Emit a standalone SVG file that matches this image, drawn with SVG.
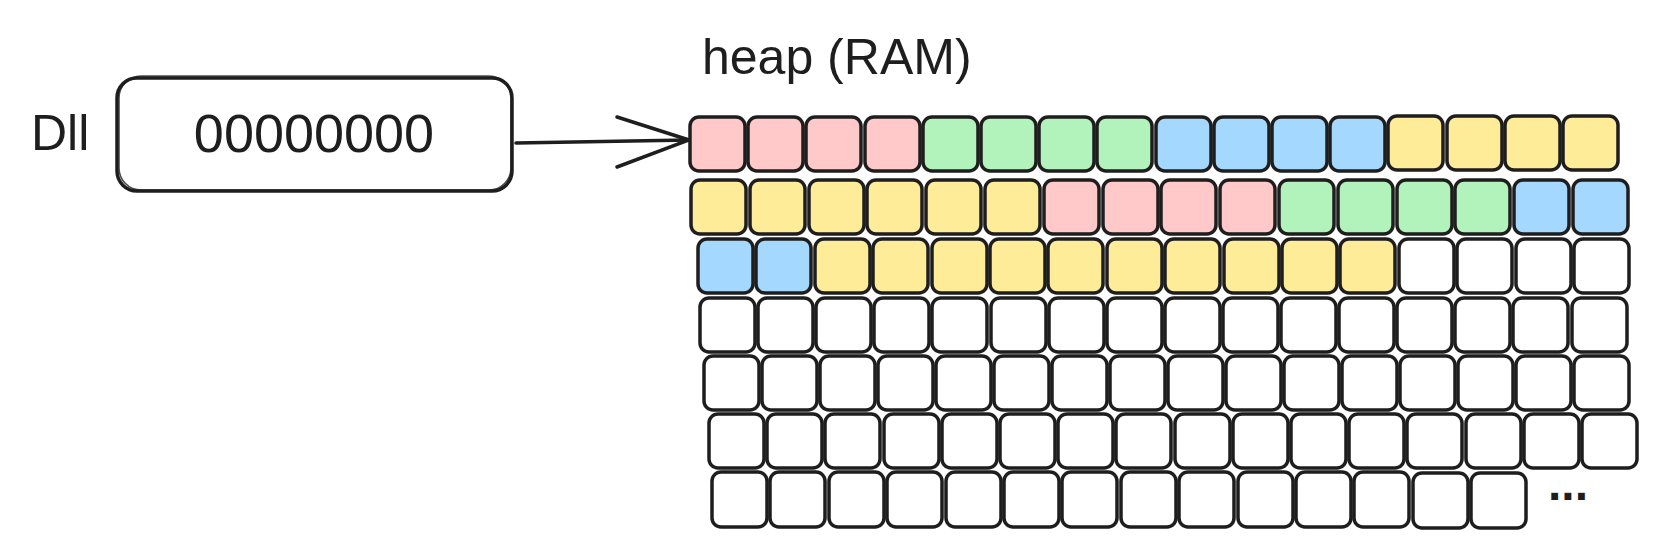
<svg xmlns="http://www.w3.org/2000/svg" width="1667" height="557" viewBox="0 0 1667 557">
<style>
.t{font-family:"Liberation Sans",Arial,sans-serif;fill:#1e1e1e}
.c{stroke:#1e1e1e;stroke-width:3.5;stroke-linejoin:round}
.s{fill:none;stroke:#1e1e1e;stroke-width:1.6;opacity:.8}
.r{fill:#ffc9c9}.g{fill:#b2f2bb}.b{fill:#a5d8ff}.y{fill:#ffec99}.w{fill:#fff}
</style>
<rect width="1667" height="557" fill="#fff"/>
<text class="t" x="31" y="150" font-size="50">Dll</text>
<text class="t" x="702" y="74" font-size="50">heap (RAM)</text>
<g id="pointer">
<rect x="117" y="78" width="395" height="113" rx="20" fill="#fff" stroke="#1e1e1e" stroke-width="3.5"/>
<rect x="119" y="76" width="392" height="114" rx="22" class="s"/>
<text class="t" x="314" y="152" font-size="54" text-anchor="middle">00000000</text>
</g>
<g id="connectors" fill="none" stroke="#1e1e1e" stroke-width="3.5" stroke-linecap="round">
<path d="M516 143 L689 140"/>
<path d="M617 117 L689 140 L617 167"/>
</g>
<g id="heap">
<g id="row1">
<rect class="c r" x="690" y="117" width="55" height="54" rx="9"/>
<rect class="c r" x="748" y="117" width="55" height="54" rx="9"/>
<rect class="c r" x="806" y="117" width="55" height="54" rx="9"/>
<rect class="c r" x="865" y="117" width="55" height="54" rx="9"/>
<rect class="c g" x="923" y="117" width="55" height="54" rx="9"/>
<rect class="c g" x="981" y="117" width="55" height="54" rx="9"/>
<rect class="c g" x="1039" y="117" width="55" height="54" rx="9"/>
<rect class="c g" x="1097" y="117" width="55" height="54" rx="9"/>
<rect class="c b" x="1156" y="117" width="55" height="54" rx="9"/>
<rect class="c b" x="1214" y="117" width="55" height="54" rx="9"/>
<rect class="c b" x="1272" y="117" width="55" height="54" rx="9"/>
<rect class="c b" x="1330" y="117" width="55" height="54" rx="9"/>
<rect class="c y" x="1388" y="116" width="55" height="54" rx="9"/>
<rect class="c y" x="1447" y="116" width="55" height="54" rx="9"/>
<rect class="c y" x="1505" y="116" width="55" height="54" rx="9"/>
<rect class="c y" x="1563" y="116" width="55" height="54" rx="9"/>
</g>
<g id="row2">
<rect class="c y" x="691" y="180" width="55" height="54" rx="9"/>
<rect class="c y" x="750" y="180" width="55" height="54" rx="9"/>
<rect class="c y" x="809" y="180" width="55" height="54" rx="9"/>
<rect class="c y" x="867" y="180" width="55" height="54" rx="9"/>
<rect class="c y" x="926" y="180" width="55" height="54" rx="9"/>
<rect class="c y" x="985" y="180" width="55" height="54" rx="9"/>
<rect class="c r" x="1044" y="180" width="55" height="54" rx="9"/>
<rect class="c r" x="1103" y="180" width="55" height="54" rx="9"/>
<rect class="c r" x="1161" y="180" width="55" height="54" rx="9"/>
<rect class="c r" x="1220" y="180" width="55" height="54" rx="9"/>
<rect class="c g" x="1279" y="180" width="55" height="54" rx="9"/>
<rect class="c g" x="1338" y="180" width="55" height="54" rx="9"/>
<rect class="c g" x="1397" y="180" width="55" height="54" rx="9"/>
<rect class="c g" x="1455" y="180" width="55" height="54" rx="9"/>
<rect class="c b" x="1514" y="180" width="55" height="54" rx="9"/>
<rect class="c b" x="1573" y="180" width="55" height="54" rx="9"/>
</g>
<g id="row3">
<rect class="c b" x="698" y="239" width="55" height="54" rx="9"/>
<rect class="c b" x="756" y="239" width="55" height="54" rx="9"/>
<rect class="c y" x="815" y="239" width="55" height="54" rx="9"/>
<rect class="c y" x="873" y="239" width="55" height="54" rx="9"/>
<rect class="c y" x="932" y="239" width="55" height="54" rx="9"/>
<rect class="c y" x="990" y="239" width="55" height="54" rx="9"/>
<rect class="c y" x="1048" y="239" width="55" height="54" rx="9"/>
<rect class="c y" x="1107" y="239" width="55" height="54" rx="9"/>
<rect class="c y" x="1165" y="239" width="55" height="54" rx="9"/>
<rect class="c y" x="1224" y="239" width="55" height="54" rx="9"/>
<rect class="c y" x="1282" y="239" width="55" height="54" rx="9"/>
<rect class="c y" x="1340" y="239" width="55" height="54" rx="9"/>
<rect class="c w" x="1399" y="239" width="55" height="54" rx="9"/>
<rect class="c w" x="1457" y="239" width="55" height="54" rx="9"/>
<rect class="c w" x="1516" y="239" width="55" height="54" rx="9"/>
<rect class="c w" x="1574" y="239" width="55" height="54" rx="9"/>
</g>
<g id="row4">
<rect class="c w" x="700" y="298" width="55" height="54" rx="9"/>
<rect class="c w" x="758" y="298" width="55" height="54" rx="9"/>
<rect class="c w" x="816" y="298" width="55" height="54" rx="9"/>
<rect class="c w" x="874" y="298" width="55" height="54" rx="9"/>
<rect class="c w" x="932" y="298" width="55" height="54" rx="9"/>
<rect class="c w" x="991" y="298" width="55" height="54" rx="9"/>
<rect class="c w" x="1049" y="298" width="55" height="54" rx="9"/>
<rect class="c w" x="1107" y="298" width="55" height="54" rx="9"/>
<rect class="c w" x="1165" y="298" width="55" height="54" rx="9"/>
<rect class="c w" x="1223" y="298" width="55" height="54" rx="9"/>
<rect class="c w" x="1281" y="298" width="55" height="54" rx="9"/>
<rect class="c w" x="1339" y="298" width="55" height="54" rx="9"/>
<rect class="c w" x="1397" y="298" width="55" height="54" rx="9"/>
<rect class="c w" x="1455" y="298" width="55" height="54" rx="9"/>
<rect class="c w" x="1513" y="298" width="55" height="54" rx="9"/>
<rect class="c w" x="1572" y="298" width="55" height="54" rx="9"/>
</g>
<g id="row5">
<rect class="c w" x="704" y="356" width="55" height="54" rx="9"/>
<rect class="c w" x="762" y="356" width="55" height="54" rx="9"/>
<rect class="c w" x="820" y="356" width="55" height="54" rx="9"/>
<rect class="c w" x="878" y="356" width="55" height="54" rx="9"/>
<rect class="c w" x="936" y="356" width="55" height="54" rx="9"/>
<rect class="c w" x="994" y="356" width="55" height="54" rx="9"/>
<rect class="c w" x="1052" y="356" width="55" height="54" rx="9"/>
<rect class="c w" x="1110" y="356" width="55" height="54" rx="9"/>
<rect class="c w" x="1168" y="356" width="55" height="54" rx="9"/>
<rect class="c w" x="1226" y="356" width="55" height="54" rx="9"/>
<rect class="c w" x="1284" y="356" width="55" height="54" rx="9"/>
<rect class="c w" x="1342" y="356" width="55" height="54" rx="9"/>
<rect class="c w" x="1400" y="356" width="55" height="54" rx="9"/>
<rect class="c w" x="1458" y="356" width="55" height="54" rx="9"/>
<rect class="c w" x="1516" y="356" width="55" height="54" rx="9"/>
<rect class="c w" x="1574" y="356" width="55" height="54" rx="9"/>
</g>
<g id="row6">
<rect class="c w" x="709" y="414" width="55" height="54" rx="9"/>
<rect class="c w" x="767" y="414" width="55" height="54" rx="9"/>
<rect class="c w" x="825" y="414" width="55" height="54" rx="9"/>
<rect class="c w" x="884" y="414" width="55" height="54" rx="9"/>
<rect class="c w" x="942" y="414" width="55" height="54" rx="9"/>
<rect class="c w" x="1000" y="414" width="55" height="54" rx="9"/>
<rect class="c w" x="1058" y="414" width="55" height="54" rx="9"/>
<rect class="c w" x="1116" y="414" width="55" height="54" rx="9"/>
<rect class="c w" x="1175" y="414" width="55" height="54" rx="9"/>
<rect class="c w" x="1233" y="414" width="55" height="54" rx="9"/>
<rect class="c w" x="1291" y="414" width="55" height="54" rx="9"/>
<rect class="c w" x="1349" y="414" width="55" height="54" rx="9"/>
<rect class="c w" x="1407" y="414" width="55" height="54" rx="9"/>
<rect class="c w" x="1466" y="414" width="55" height="54" rx="9"/>
<rect class="c w" x="1524" y="414" width="55" height="54" rx="9"/>
<rect class="c w" x="1582" y="414" width="55" height="54" rx="9"/>
</g>
<g id="row7">
<rect class="c w" x="712" y="472" width="55" height="55" rx="9"/>
<rect class="c w" x="770" y="472" width="55" height="55" rx="9"/>
<rect class="c w" x="829" y="472" width="55" height="55" rx="9"/>
<rect class="c w" x="887" y="472" width="55" height="55" rx="9"/>
<rect class="c w" x="946" y="472" width="55" height="55" rx="9"/>
<rect class="c w" x="1004" y="472" width="55" height="55" rx="9"/>
<rect class="c w" x="1062" y="472" width="55" height="55" rx="9"/>
<rect class="c w" x="1121" y="472" width="55" height="55" rx="9"/>
<rect class="c w" x="1179" y="472" width="55" height="55" rx="9"/>
<rect class="c w" x="1238" y="472" width="55" height="55" rx="9"/>
<rect class="c w" x="1296" y="472" width="55" height="55" rx="9"/>
<rect class="c w" x="1354" y="472" width="55" height="55" rx="9"/>
<rect class="c w" x="1413" y="473" width="55" height="55" rx="9"/>
<rect class="c w" x="1471" y="473" width="55" height="55" rx="9"/>
</g>
<text class="t" x="1548" y="500" font-size="48" font-weight="bold">...</text>
</g>
</svg>
